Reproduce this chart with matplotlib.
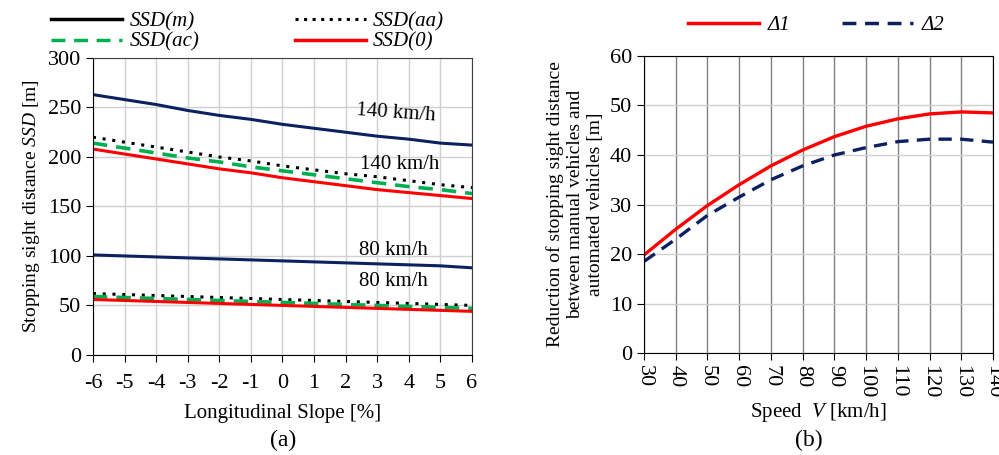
import numpy as np
import matplotlib
matplotlib.use("Agg")
import matplotlib.pyplot as plt
from matplotlib.lines import Line2D

plt.rcParams['font.family'] = ['Liberation Serif', 'DejaVu Serif']
plt.rcParams['mathtext.fontset'] = 'custom'
plt.rcParams['mathtext.rm'] = 'Liberation Serif'
plt.rcParams['mathtext.it'] = 'Liberation Serif:italic'
plt.rcParams['axes.unicode_minus'] = False

# ---- dados (a) ----
inclinacao = [-6, -5, -4, -3, -2, -1, 0, 1, 2, 3, 4, 5, 6]
ssd_m_140 = [263, 258, 253, 247, 242, 238, 233, 229, 225, 221, 218, 214, 212]
ssd_aa_140 = [220, 215, 210, 205, 200, 196, 191, 187, 183, 180, 176, 172, 169]
ssd_ac_140 = [214, 209, 204, 199, 195, 190, 186, 182, 178, 174, 170, 167, 163]
ssd_0_140 = [208, 203, 198, 193, 188, 184, 179, 175, 171, 167, 164, 161, 158]
ssd_m_80 = [101, 100, 99, 98, 97, 96, 95, 94, 93, 92, 91, 90, 88]
ssd_aa_80 = [62, 61, 60, 59, 58, 57, 56, 55, 54, 53, 52, 51, 50]
ssd_ac_80 = [59, 58, 57, 56, 55, 54, 53, 52, 51, 50, 49, 48, 47]
ssd_0_80 = [56, 55, 54, 53, 52, 51, 50, 49, 48, 47, 46, 45, 44]

# ---- dados (b) ----
velocidade = [30, 40, 50, 60, 70, 80, 90, 100, 110, 120, 130, 140]
delta1 = [19.8, 25.0, 29.8, 34.0, 37.8, 41.0, 43.7, 45.8, 47.3, 48.3, 48.7, 48.5]
delta2 = [18.5, 23.0, 27.8, 31.5, 35.0, 37.8, 40.0, 41.5, 42.7, 43.2, 43.2, 42.6]

AZUL = '#0d2060'
VERDE = '#00b050'
VERMELHO = '#ff0000'
FS = 15      # rótulos
FT = 16      # ticks

fig = plt.figure(figsize=(9.99, 4.55), dpi=100)
ax1 = fig.add_axes([0.093, 0.22, 0.3795, 0.6525])
ax2 = fig.add_axes([0.6446, 0.224, 0.3494, 0.653])

# painel (a)
for serie_140, serie_80, cor, estilo in [
        (ssd_m_140, ssd_m_80, AZUL, dict(ls='-', lw=2.2)),
        (ssd_aa_140, ssd_aa_80, 'black', dict(ls=(0, (1, 2.2)), lw=2.2)),
        (ssd_ac_140, ssd_ac_80, VERDE, dict(ls=(0, (4, 2.5)), lw=2.6)),
        (ssd_0_140, ssd_0_80, VERMELHO, dict(ls='-', lw=2.2))]:
    ax1.plot(inclinacao, serie_140, color=cor, **estilo)
    ax1.plot(inclinacao, serie_80, color=cor, **estilo)

ax1.set_xlim(-6, 6)
ax1.set_ylim(0, 300)
ax1.set_xticks(inclinacao)
ax1.set_yticks(range(0, 301, 50))
ax1.grid(True, color='#d0d0d0', lw=1)
ax1.set_axisbelow(True)
ax1.tick_params(labelsize=FT, direction='out', length=5)
ax1.tick_params(axis='x', pad=9)
ax1.set_xlabel('Longitudinal Slope [%]', fontsize=FS, labelpad=8)
ax1.set_ylabel(r'Stopping sight distance $SSD$ [m]', fontsize=FS - 1)
for lado in ['top', 'right']:
    ax1.spines[lado].set_color('#404040')

ax1.text(3.6, 244, '140 km/h', fontsize=FS, ha='center', va='center', rotation=-4)
ax1.text(3.7, 192, '140 km/h', fontsize=FS, ha='center', va='center')
ax1.text(3.5, 105, '80 km/h', fontsize=FS, ha='center', va='center')
ax1.text(3.5, 74, '80 km/h', fontsize=FS, ha='center', va='center')
fig.text(0.283, 0.02, '(a)', fontsize=FS + 2, ha='center')

handles_a = [
    Line2D([], [], color='black', lw=2.5),
    Line2D([], [], color=VERDE, lw=2.5, ls=(0, (4, 2.5))),
    Line2D([], [], color='black', lw=2.2, ls=(0, (1, 1.8))),
    Line2D([], [], color=VERMELHO, lw=2.5),
]
labels_a = ['SSD(m)', 'SSD(ac)', 'SSD(aa)', 'SSD(0)']
fig.legend(handles_a, labels_a, ncol=2, loc='center', bbox_to_anchor=(0.248, 0.93),
           frameon=False, prop={'size': FS, 'style': 'italic'}, handlelength=3.4,
           columnspacing=4.6, labelspacing=0.05, handletextpad=0.35)

# painel (b)
ax2.plot(velocidade, delta1, color=VERMELHO, lw=2.4)
ax2.plot(velocidade, delta2, color=AZUL, lw=2.4, ls=(0, (4, 2.5)))
ax2.set_xlim(30, 140)
ax2.set_ylim(0, 60)
ax2.set_xticks(velocidade)
ax2.set_yticks(range(0, 61, 10))
ax2.xaxis.grid(True, color='#808080', lw=1)
ax2.yaxis.grid(True, color='#d0d0d0', lw=1)
ax2.set_axisbelow(True)
ax2.tick_params(labelsize=FT, direction='out', length=5)
ax2.tick_params(axis='x', rotation=-90)
ax2.set_xlabel(r'Speed  $V$ [km/h]', fontsize=FS, labelpad=2)
ax2.set_ylabel('Reduction of stopping sight distance\nbetween manual vehicles and\nautomated vehicles [m]',
               fontsize=FS - 1, linespacing=1.25)
fig.text(0.81, 0.02, '(b)', fontsize=FS + 2, ha='center')

handles_b = [Line2D([], [], color=VERMELHO, lw=2.5),
             Line2D([], [], color=AZUL, lw=2.5, ls=(0, (4, 2.5)))]
fig.legend(handles_b, ['Δ1', 'Δ2'], ncol=2, loc='center',
           bbox_to_anchor=(0.817, 0.945), frameon=False,
           prop={'size': FS, 'style': 'italic'}, handlelength=3.4,
           columnspacing=2.5, handletextpad=0.4)

fig.savefig('out.png', dpi=100)
